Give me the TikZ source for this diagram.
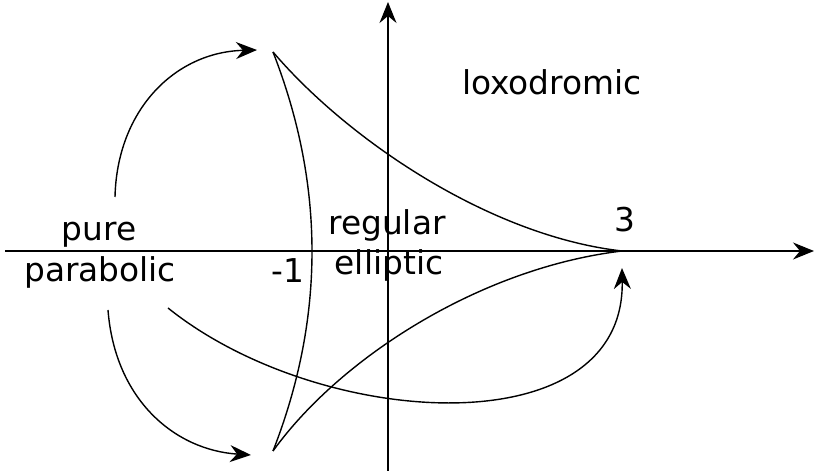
\documentclass[tikz,border=0pt]{standalone}
\usepackage{fontspec}
\setmainfont{DejaVu Sans}
\usetikzlibrary{arrows.meta}

\tikzset{
  curve/.style={line width=0.7pt},
  tip/.style={line width=0.7pt, -{Stealth[length=10.5pt, width=8.5pt, inset=3.5pt]}},
  lab/.style={anchor=base, inner sep=0pt, font=\fontsize{16.4}{19}\selectfont}
}

\begin{document}
\begin{tikzpicture}[x=0.5pt, y=-0.5pt]
  \useasboundingbox (0,0) rectangle (816,476);
  % axes
  \coordinate (xl) at (5,251);
  \coordinate (xr) at (814,251);
  \coordinate (yb) at (388,471);
  \coordinate (yt) at (388,2);
  \draw[tip] (xl) -- (xr);
  \draw[tip] (yb) -- (yt);
  % cusps of the region
  \coordinate (ctop) at (273,52);
  \coordinate (cbot) at (273,451);
  \coordinate (cright) at (622,251);
  \draw[curve] (ctop) .. controls (325,185) and (325,318) .. (cbot);
  \draw[curve] (ctop) .. controls (348,140) and (490,236) .. (cright);
  \draw[curve] (cbot) .. controls (340,358) and (480,268) .. (cright);
  % labels
  \node[lab] (pure) at (99,241) {pure};
  \node[lab] (parab) at (100,282) {parabolic};
  \node[lab] (reg) at (387,235) {regular};
  \node[lab] (ell) at (389,275) {elliptic};
  \node[lab] (mone) at (288,283) {-1};
  \node[lab] (three) at (625,232) {3};
  \node[lab] (loxo) at (552,95) {loxodromic};
  % arrows
  \coordinate (a1s) at (115,197);
  \coordinate (a1e) at (257,50);
  \coordinate (a2s) at (108,310);
  \coordinate (a2e) at (251,455);
  \coordinate (a3s) at (168,308);
  \coordinate (a3e) at (622,268);
  \draw[tip] (a1s) .. controls (117,110) and (175,52) .. (a1e);
  \draw[tip] (a2s) .. controls (115,400) and (175,450) .. (a2e);
  \draw[tip] (a3s) .. controls (320,430) and (625,448) .. (a3e);
\end{tikzpicture}
\end{document}
